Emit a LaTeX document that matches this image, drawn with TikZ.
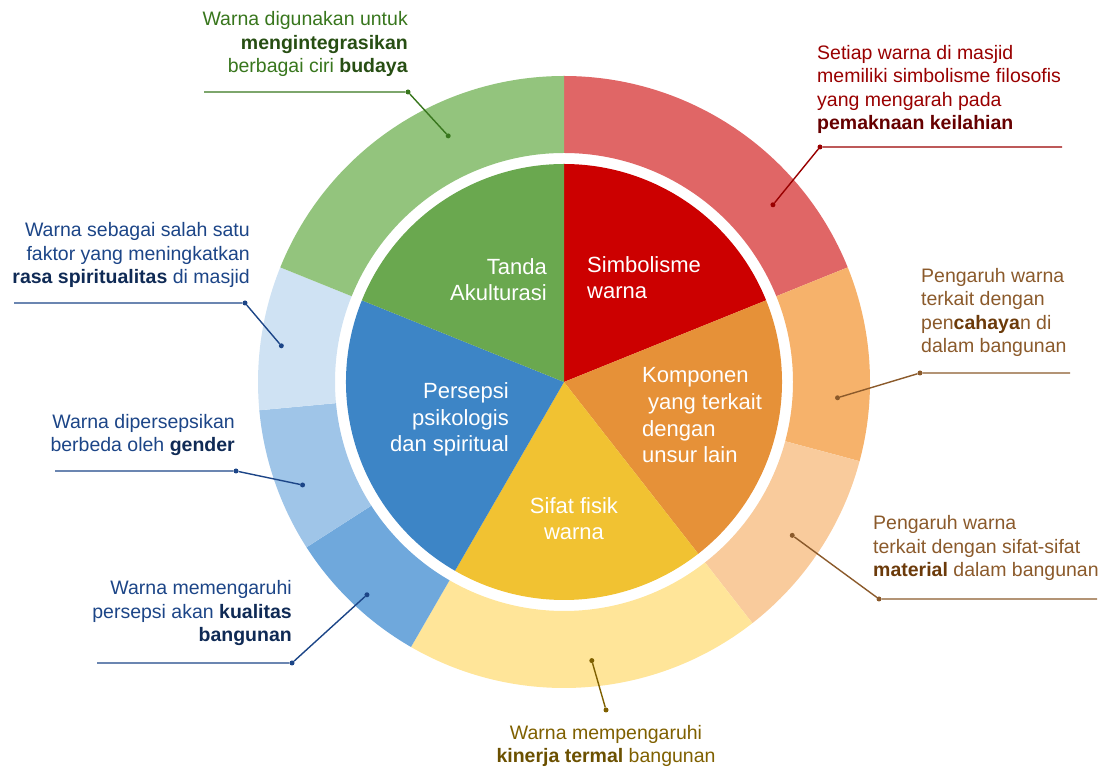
\documentclass[tikz,border=0pt]{standalone}
\usepackage{fontspec}
\setmainfont{Liberation Sans}
\usetikzlibrary{positioning}

\definecolor{piegreen}{HTML}{6AA84F}
\definecolor{piered}{HTML}{CC0000}
\definecolor{pieorange}{HTML}{E69138}
\definecolor{pieyellow}{HTML}{F1C232}
\definecolor{pieblue}{HTML}{3D85C6}
\definecolor{ringgreen}{HTML}{93C47D}
\definecolor{ringred}{HTML}{E06666}
\definecolor{ringorange}{HTML}{F6B26B}
\definecolor{ringpeach}{HTML}{F9CB9C}
\definecolor{ringyellow}{HTML}{FFE599}
\definecolor{ringblueA}{HTML}{6FA8DC}
\definecolor{ringblueB}{HTML}{9FC5E8}
\definecolor{ringblueC}{HTML}{CFE2F3}
\definecolor{txtgreen}{HTML}{38761D}
\definecolor{boldgreen}{HTML}{274E13}
\definecolor{txtred}{HTML}{990000}
\definecolor{boldred}{HTML}{660000}
\definecolor{txtblue}{HTML}{1C4587}
\definecolor{boldblue}{HTML}{0F2A55}
\definecolor{txtbrown}{HTML}{8B5A2B}
\definecolor{boldbrown}{HTML}{6B3A0A}
\definecolor{txtolive}{HTML}{7F6000}
\definecolor{boldolive}{HTML}{6B5000}

\tikzset{
  lbl/.style={inner sep=0pt, font=\fontsize{19.5}{23.5}\selectfont},
  pietxt/.style={inner sep=0pt, text=white, font=\fontsize{22}{26.8}\selectfont},
  leader/.style={line width=1.4pt},
  dot/.style={circle, fill, inner sep=0pt, minimum size=5pt},
}

\begin{document}
\begin{tikzpicture}[x=1pt,y=1pt]
  \useasboundingbox (0,0) rectangle (1106,776);
  \coordinate (c) at (564,394);

  %% outer ring
  \foreach \a/\b/\col in {90/22/ringred, 22/-15/ringorange, -15/-52/ringpeach,
      -52/-120/ringyellow, -120/-147.3/ringblueA, -147.3/-174.7/ringblueB,
      -174.7/-202/ringblueC, 158/90/ringgreen}
    \fill[\col] ([shift={(\a:306pt)}]c) arc[start angle=\a, end angle=\b, radius=306pt]
      -- ([shift={(\b:229pt)}]c) arc[start angle=\b, end angle=\a, radius=229pt] -- cycle;

  %% inner pie
  \foreach \a/\b/\col in {90/22/piered, 22/-52/pieorange, -52/-120/pieyellow,
      -120/-202/pieblue, 158/90/piegreen}
    \fill[\col] (c) -- ([shift={(\a:218pt)}]c)
      arc[start angle=\a, end angle=\b, radius=218pt] -- cycle;

  %% (base anchor = last line)
  \node[pietxt, anchor=base east, align=right] (tanda) at (547,475) {Tanda\\Akulturasi};
  \node[pietxt, anchor=base west, align=left] (simbol) at (587,477) {Simbolisme\\warna};
  \node[pietxt, anchor=base west, align=left] (komponen) at (642,313)
    {Komponen\\\hspace*{6pt}yang terkait\\dengan\\unsur lain};
  \node[pietxt, anchor=base east, align=right] (persepsi) at (509,324)
    {Persepsi\\psikologis\\dan spiritual};
  \node[pietxt, anchor=base, align=center] (sifat) at (574,236) {Sifat fisik\\warna};

  %% budaya (green)
  \begin{scope}[txtgreen]
    \node[lbl, anchor=base east, align=right] (budaya) at (408,703)
      {Warna digunakan untuk\\{\color{boldgreen}\textbf{mengintegrasikan}}\\
       berbagai ciri {\color{boldgreen}\textbf{budaya}}};
    \coordinate (budayastart) at (204,684);
    \node[dot] (budayaelbow) at (408,684) {};
    \node[dot] (budayaring) at ([shift={(115.2:272pt)}]c) {};
    \draw[leader] (budayastart) -- (budayaelbow) -- (budayaring);
  \end{scope}

  %% keilahian (red)
  \begin{scope}[txtred]
    \node[lbl, anchor=base west, align=left] (keilahian) at (817,646)
      {Setiap warna di masjid\\memiliki simbolisme filosofis\\yang mengarah pada\\
       {\color{boldred}\textbf{pemaknaan keilahian}}};
    \coordinate (keilahianstart) at (1062,629);
    \node[dot] (keilahianelbow) at (820,629) {};
    \node[dot] (keilahianring) at ([shift={(40.3:274pt)}]c) {};
    \draw[leader] (keilahianstart) -- (keilahianelbow) -- (keilahianring);
  \end{scope}

  %% cahaya (orange)
  \begin{scope}[txtbrown]
    \node[lbl, anchor=base west, align=left] (cahaya) at (921,423)
      {Pengaruh warna\\terkait dengan\\pen{\color{boldbrown}\textbf{cahaya}}n di\\dalam bangunan};
    \coordinate (cahayastart) at (1070,403);
    \node[dot] (cahayaelbow) at (920,403) {};
    \node[dot] (cahayaring) at ([shift={(-3.3:274pt)}]c) {};
    \draw[leader] (cahayastart) -- (cahayaelbow) -- (cahayaring);
  \end{scope}

  %% material (peach)
  \begin{scope}[txtbrown]
    \node[lbl, anchor=base west, align=left] (material) at (873,199)
      {Pengaruh warna\\terkait dengan sifat-sifat\\
       {\color{boldbrown}\textbf{material}} dalam bangunan};
    \coordinate (materialstart) at (1097,177);
    \node[dot] (materialelbow) at (879,177) {};
    \node[dot] (materialring) at ([shift={(-33.9:275pt)}]c) {};
    \draw[leader] (materialstart) -- (materialelbow) -- (materialring);
  \end{scope}

  %% termal (yellow)
  \begin{scope}[txtolive]
    \node[lbl, anchor=base, align=center] (termal) at (606,13)
      {Warna mempengaruhi\\{\color{boldolive}\textbf{kinerja termal}} bangunan};
    \node[dot] (termalend) at (606,66) {};
    \node[dot] (termalring) at ([shift={(-84.3:280pt)}]c) {};
    \draw[leader] (termalend) -- (termalring);
  \end{scope}

  %% kualitas, gender, spiritualitas (blues)
  \begin{scope}[txtblue]
    \node[lbl, anchor=base east, align=right] (kualitas) at (292,134)
      {Warna memengaruhi\\persepsi akan {\color{boldblue}\textbf{kualitas}}\\
       {\color{boldblue}\textbf{bangunan}}};
    \coordinate (kualitasstart) at (97,113);
    \node[dot] (kualitaselbow) at (292,113) {};
    \node[dot] (kualitasring) at ([shift={(227.2:290pt)}]c) {};
    \draw[leader] (kualitasstart) -- (kualitaselbow) -- (kualitasring);

    \node[lbl, anchor=base east, align=right] (gender) at (235,324)
      {Warna dipersepsikan\\berbeda oleh {\color{boldblue}\textbf{gender}}};
    \coordinate (genderstart) at (55,305);
    \node[dot] (genderelbow) at (236,305) {};
    \node[dot] (genderring) at ([shift={(201.5:281pt)}]c) {};
    \draw[leader] (genderstart) -- (genderelbow) -- (genderring);

    \node[lbl, anchor=base east, align=right] (spiritual) at (250,492)
      {Warna sebagai salah satu\\faktor yang meningkatkan\\
       {\color{boldblue}\textbf{rasa spiritualitas}} di masjid};
    \coordinate (spiritualstart) at (14,473);
    \node[dot] (spiritualelbow) at (245,473) {};
    \node[dot] (spiritualring) at ([shift={(172.7:285pt)}]c) {};
    \draw[leader] (spiritualstart) -- (spiritualelbow) -- (spiritualring);
  \end{scope}
\end{tikzpicture}
\end{document}
